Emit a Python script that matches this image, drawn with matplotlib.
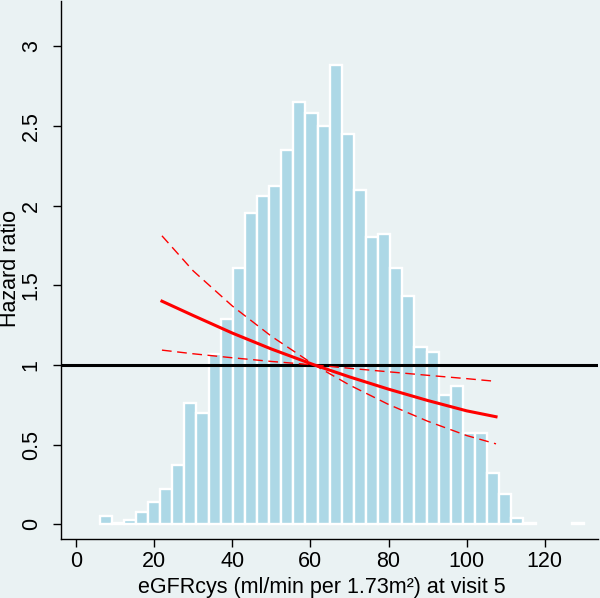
import matplotlib
import matplotlib.pyplot as plt
import numpy as np

matplotlib.use('Agg')
plt.rcParams['font.family'] = ['Liberation Sans', 'DejaVu Sans']

# histogram of eGFRcys (40 bins), heights on the hazard ratio scale
bin_start = 6.03
bin_width = 3.10
bar_heights = [0.05, 0.008, 0.025, 0.08, 0.14, 0.22, 0.37, 0.76, 0.70, 1.07,
               1.29, 1.61, 1.95, 2.06, 2.12, 2.35, 2.65, 2.58, 2.50, 2.88,
               2.45, 2.10, 1.80, 1.82, 1.61, 1.43, 1.11, 1.08, 0.81, 0.87,
               0.57, 0.57, 0.32, 0.19, 0.04, 0.01, 0.0, 0.0, 0.0, 0.006]

# fitted hazard ratio and 95% CI
curve_x = [22, 30, 40, 50, 61, 70, 80, 90, 100, 107.5]
hr = [1.40, 1.31, 1.20, 1.10, 1.0, 0.925, 0.848, 0.777, 0.712, 0.675]
ci_steep = [1.81, 1.59, 1.37, 1.18, 1.0, 0.874, 0.752, 0.647, 0.557, 0.505]
ci_flat = [1.093, 1.070, 1.045, 1.022, 1.0, 0.979, 0.957, 0.935, 0.914, 0.897]

xticks = [0, 20, 40, 60, 80, 100, 120]
yticks = [0, 0.5, 1, 1.5, 2, 2.5, 3]
ytick_labels = ['0', '0.5', '1', '1.5', '2', '2.5', '3']

bg = '#EAF2F3'
bar_color = '#ADD8E6'

fig = plt.figure(figsize=(6.0, 5.98), dpi=100, facecolor=bg)
ax = fig.add_axes([61.3 / 600, 59.3 / 598, (598 - 61.3) / 600, (597 - 59.3) / 598])
ax.set_facecolor(bg)

heights = np.array(bar_heights)
centers = bin_start + bin_width * (np.arange(len(heights)) + 0.5)
keep = heights > 0
ax.bar(centers[keep], heights[keep], width=bin_width, color=bar_color,
       edgecolor='white', linewidth=1.7, zorder=2)

ax.axhline(1, color='black', linewidth=2.2, zorder=3)
ax.plot(curve_x, hr, color='red', linewidth=2.2, zorder=4)
ax.plot(curve_x, ci_steep, color='red', linewidth=1.0, dashes=(7, 4), zorder=4)
ax.plot(curve_x, ci_flat, color='red', linewidth=1.0, dashes=(7, 4), zorder=4)

ax.set_xlim(-3.76, 133.6)
ax.set_ylim(-0.09, 3.283)
ax.set_xticks(xticks)
ax.set_yticks(yticks)
ax.set_yticklabels(ytick_labels, rotation=90, va='center')

for s in ['top', 'right']:
    ax.spines[s].set_visible(False)
for s in ['left', 'bottom']:
    ax.spines[s].set_linewidth(1.0)
ax.tick_params(axis='both', length=6, width=1.0, labelsize=15.5)
ax.tick_params(axis='x', pad=3)
ax.tick_params(axis='y', pad=8)

fig.text(321.7 / 600, 5 / 598, 'eGFRcys (ml/min per 1.73m²) at visit 5',
         fontsize=15.5, ha='center', va='baseline')
fig.text(11 / 600, 1 - 268.3 / 598, 'Hazard ratio', fontsize=15.5,
         rotation=90, ha='center', va='center')

fig.savefig('out.png', dpi=100, facecolor=bg)
